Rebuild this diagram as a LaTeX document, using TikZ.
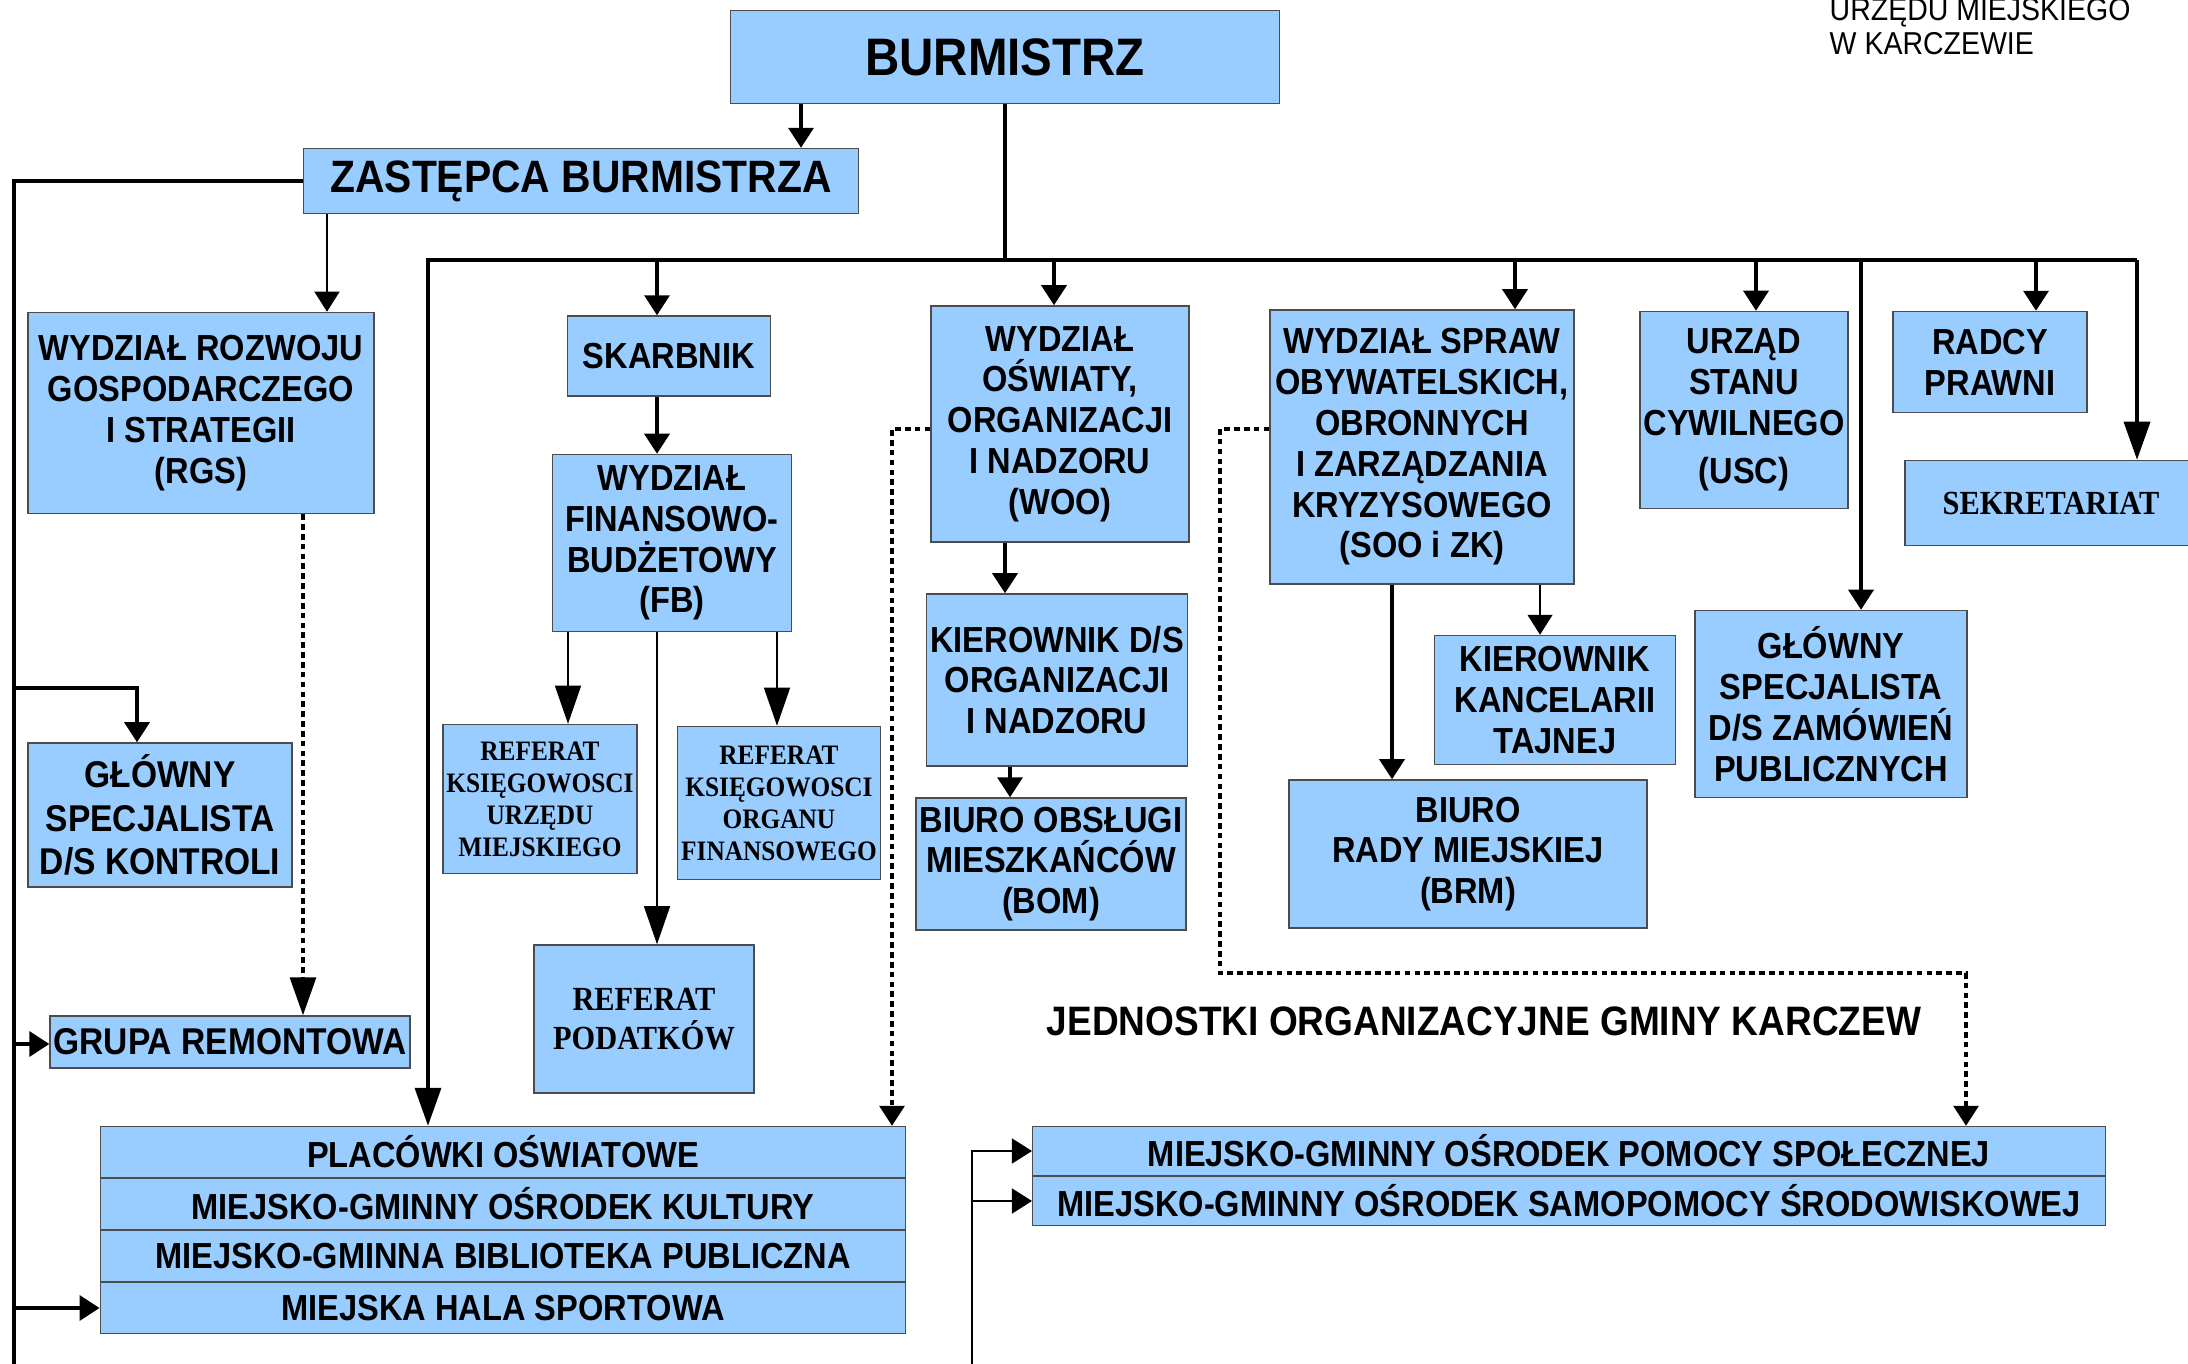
\documentclass[tikz,border=0pt]{standalone}
\usepackage{fontspec}
\usetikzlibrary{arrows.meta}
\newfontfamily\sanscond[FakeStretch=0.9]{Liberation Sans}
\newfontfamily\serifcond[FakeStretch=0.9]{Liberation Serif}
\definecolor{boxblue}{HTML}{99CCFF}
\newcommand\boxfont{\sanscond\bfseries\fontsize{10.3}{11.6}\selectfont}
\newcommand\reffontsmall{\serifcond\bfseries\fontsize{8}{9.1}\selectfont}
\newcommand\reffontbig{\serifcond\bfseries\fontsize{9.6}{11}\selectfont}
\begin{document}
\begin{tikzpicture}
[x=0.01cm, y=-0.01cm,
  boxdecorate/.style={draw=black!70, fill=boxblue, line width=0.4pt, inner sep=1pt, align=center, font=\boxfont},%
  thickdecorate/.style={line width=1pt},%
  thindecorate/.style={line width=0.35pt},%
  dotdecorate/.style={line width=0.9pt, dash pattern=on 1.6pt off 1.2pt},%
  shorttip/.style={-{Triangle[length=2mm,width=2.5mm]}},%
  longtip/.style={-{Triangle[length=3.8mm,width=2.6mm]}}]
\useasboundingbox (0,0) rectangle (2188,1364);
%% boxes
\node (burm) at (1005,57) [boxdecorate, minimum width=5.49cm, minimum height=0.93cm,
  font=\sanscond\bfseries\fontsize{15}{18}\selectfont] {BURMISTRZ};
\node (zast) at (581,181) [boxdecorate, minimum width=5.55cm, minimum height=0.65cm,
  font=\sanscond\bfseries\fontsize{12.9}{15}\selectfont] {ZASTĘPCA BURMISTRZA};
\node (rgs) at (201,413) [boxdecorate, minimum width=3.46cm, minimum height=2.01cm]
  {WYDZIAŁ ROZWOJU\\GOSPODARCZEGO\\I STRATEGII\\(RGS)};
\node (skarb) at (669,356) [boxdecorate, minimum width=2.03cm, minimum height=0.8cm] {SKARBNIK};
\node (fb) at (672,543) [boxdecorate, minimum width=2.39cm, minimum height=1.77cm]
  {WYDZIAŁ\\FINANSOWO-\\BUDŻETOWY\\(FB)};
\node (gsk) at (160,815) [boxdecorate, minimum width=2.64cm, minimum height=1.44cm,
  font=\sanscond\bfseries\fontsize{10.6}{12.3}\selectfont] {GŁÓWNY\\SPECJALISTA\\D/S KONTROLI};
\node (grupa) at (230,1042) [boxdecorate, minimum width=3.55cm, minimum height=0.52cm,
  font=\sanscond\bfseries\fontsize{10.6}{12}\selectfont] {GRUPA REMONTOWA};
\node (refum) at (540,799) [boxdecorate, minimum width=1.9cm, minimum height=1.49cm, font=\reffontsmall]
  {REFERAT\\KSIĘGOWOSCI\\URZĘDU\\MIEJSKIEGO};
\node (refof) at (779,803) [boxdecorate, minimum width=2cm, minimum height=1.53cm, font=\reffontsmall]
  {REFERAT\\KSIĘGOWOSCI\\ORGANU\\FINANSOWEGO};
\node (refpod) at (644,1019) [boxdecorate, minimum width=2.2cm, minimum height=1.48cm, font=\reffontbig]
  {REFERAT\\PODATKÓW};
\node (woo) at (1060,424) [boxdecorate, minimum width=2.58cm, minimum height=2.36cm]
  {WYDZIAŁ\\OŚWIATY,\\ORGANIZACJI\\I NADZORU\\(WOO)};
\node (kier) at (1057,680) [boxdecorate, minimum width=2.57cm, minimum height=1.72cm]
  {KIEROWNIK D/S\\ORGANIZACJI\\I NADZORU};
\node (bom) at (1051,864) [boxdecorate, minimum width=2.68cm, minimum height=1.32cm]
  {BIURO OBSŁUGI\\MIESZKAŃCÓW\\(BOM)};
\node (soo) at (1422,447) [boxdecorate, minimum width=3.04cm, minimum height=2.74cm]
  {WYDZIAŁ SPRAW\\OBYWATELSKICH,\\OBRONNYCH\\I ZARZĄDZANIA\\KRYZYSOWEGO\\(SOO i ZK)};
\node (brm) at (1468,854) [boxdecorate, minimum width=3.58cm, minimum height=1.48cm]
  {BIURO\\RADY MIEJSKIEJ\\(BRM)};
\node (kkt) at (1555,700) [boxdecorate, minimum width=2.41cm, minimum height=1.29cm]
  {KIEROWNIK\\KANCELARII\\TAJNEJ};
\node (usc) at (1744,410) [boxdecorate, minimum width=2.07cm, minimum height=1.97cm]
  {URZĄD\\STANU\\CYWILNEGO\\[2pt](USC)};
\node (gsz) at (1831,704) [boxdecorate, minimum width=2.72cm, minimum height=1.87cm]
  {GŁÓWNY\\SPECJALISTA\\D/S ZAMÓWIEŃ\\PUBLICZNYCH};
\node (radcy) at (1990,362) [boxdecorate, minimum width=1.94cm, minimum height=1.01cm] {RADCY\\PRAWNI};
\node (sekr) at (2051,503) [boxdecorate, minimum width=2.92cm, minimum height=0.85cm, font=\reffontbig] {SEKRETARIAT};
\foreach \nodename/\y/\rowtext in {pl1/1152/PLACÓWKI OŚWIATOWE, pl2/1204/MIEJSKO-GMINNY OŚRODEK KULTURY,
  pl3/1256/MIEJSKO-GMINNA BIBLIOTEKA PUBLICZNA, pl4/1308/MIEJSKA HALA SPORTOWA}
{
  \node (\nodename) at (503,\y) [boxdecorate, minimum width=8.05cm, minimum height=0.51cm] {\rowtext};
}
\foreach \nodename/\y/\rowtext in {mg1/1151/MIEJSKO-GMINNY OŚRODEK POMOCY SPOŁECZNEJ,
  mg2/1201/MIEJSKO-GMINNY OŚRODEK SAMOPOMOCY ŚRODOWISKOWEJ}
{
  \node (\nodename) at (1569,\y) [boxdecorate, minimum width=10.72cm, minimum height=0.49cm] {\rowtext};
}
%% texts
\node (jedn) at (1484,1021) [font=\sanscond\bfseries\fontsize{11.7}{14}\selectfont]
  {JEDNOSTKI ORGANIZACYJNE GMINY KARCZEW};
\node (urz1) at (1829,21) [anchor=base west, inner sep=0pt, font=\sanscond\fontsize{9}{10}\selectfont] {URZĘDU MIEJSKIEGO};
\node (urz2) at (1829,55) [anchor=base west, inner sep=0pt, font=\sanscond\fontsize{9}{10}\selectfont] {W KARCZEWIE};
%% corner points
\coordinate (busL) at (428,260);
\coordinate (busR) at (2137,260);
\coordinate (leftB) at (14,1364);
\coordinate (brK) at (14,688);
\coordinate (brG) at (14,1044);
\coordinate (brH) at (14,1308);
\coordinate (dotW) at (892,429);
\coordinate (dotS) at (1220,429);
\coordinate (dotB) at (1220,973);
\coordinate (dotE) at (1966,973);
\coordinate (mgB) at (972,1364);
%% main lines
\draw[thickdecorate] (burm.south) -- (burm.south |- busL);
\draw[thickdecorate, shorttip] (burm.south -| 801,0) -- (zast.north -| 801,0);
\draw[thickdecorate, longtip] (busR) -- (busL) -- (pl1.north -| busL);
\draw[thickdecorate, longtip] (busR) -- (sekr.north -| busR);
\foreach \target/\x in {skarb/657, woo/1054, soo/1515, usc/1756, gsz/1861, radcy/2036}
{
  \draw[thickdecorate, shorttip] (\x,260) -- (\target.north -| \x,0);
}
%% left line
\draw[thickdecorate] (zast.west) -- (zast.west -| leftB) -- (leftB);
\draw[thickdecorate, shorttip] (brK) -| (gsk.north -| 137,0);
\draw[thickdecorate, shorttip] (brG) -- (grupa.west |- brG);
\draw[thickdecorate, shorttip] (brH) -- (pl4.west);
%% inner arrows
\draw[thindecorate, shorttip] (zast.south -| 327,0) -- (rgs.north -| 327,0);
\draw[dotdecorate, longtip] (rgs.south -| 303,0) -- (grupa.north -| 303,0);
\draw[thickdecorate, shorttip] (skarb.south -| 657,0) -- (fb.north -| 657,0);
\foreach \target/\x in {refum/568, refpod/657, refof/777}
{
  \draw[thindecorate, longtip] (fb.south -| \x,0) -- (\target.north -| \x,0);
}
\draw[thickdecorate, shorttip] (woo.south -| 1005,0) -- (kier.north -| 1005,0);
\draw[thickdecorate, shorttip] (kier.south -| 1010,0) -- (bom.north -| 1010,0);
\draw[thickdecorate, shorttip] (soo.south -| 1392,0) -- (brm.north -| 1392,0);
\draw[thindecorate, shorttip] (soo.south -| 1540,0) -- (kkt.north -| 1540,0);
%% dotted lines
\draw[dotdecorate, shorttip] (woo.west |- dotW) -- (dotW) -- (pl1.north -| dotW);
\draw[dotdecorate, shorttip] (soo.west |- dotS) -- (dotS) -- (dotB) -- (dotE) -- (mg1.north -| dotE);
%% lower right arrows
\draw[thindecorate, shorttip] (mgB) -- (mgB |- mg1.west) -- (mg1.west);
\draw[thindecorate, shorttip] (mgB |- mg2.west) -- (mg2.west);
\end{tikzpicture}
\end{document}
